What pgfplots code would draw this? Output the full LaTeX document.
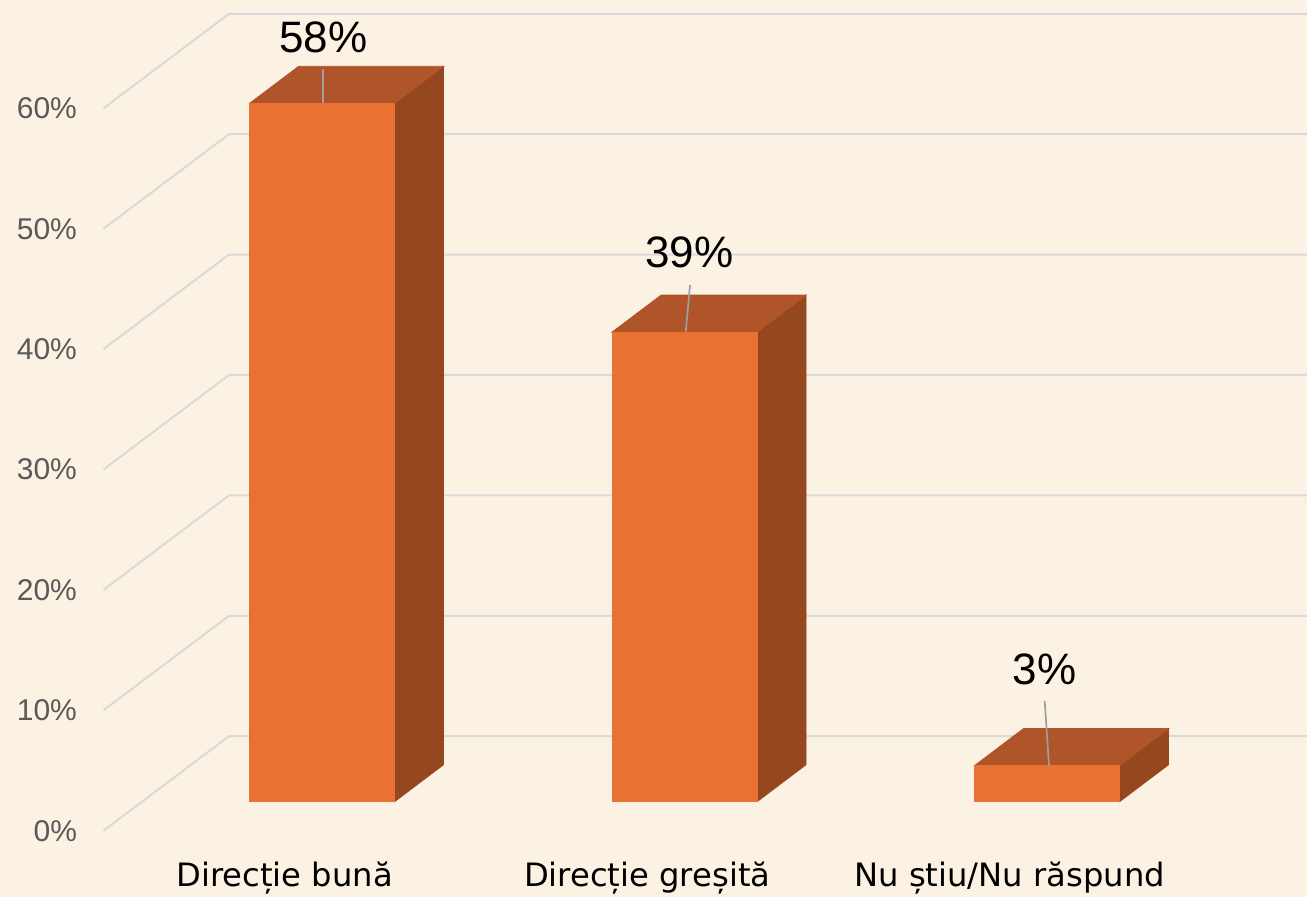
\documentclass[border=0pt]{standalone}
\usepackage{pgfplots}
\pgfplotsset{compat=1.18}
\usepackage{pgfplotstable}
\usepackage{fontspec}
\setmainfont{Liberation Sans}
\newfontfamily\catfont{DejaVu Sans}
\definecolor{bg}{HTML}{FCF2E4}
\definecolor{barfront}{HTML}{E97132}
\definecolor{bartop}{HTML}{B0552A}
\definecolor{barside}{HTML}{95471F}
\definecolor{gridc}{HTML}{D9D9D9}
\definecolor{tickc}{HTML}{595959}
\definecolor{leader}{HTML}{9E9E9E}

\pgfplotstableread{
idx v
0 58
1 39
2 3
}\bars

\pgfplotstableread{
x y lab
0.1063 65.92 58
1.1166 48.05 39
2.0964 13.43 3
}\labels

% mark drawn at the data point (left edge, value); the bar plane base sits 2.41 units above the floor
\pgfdeclareplotmark{bar3d}{%
  \pgfkeys{/pgf/fpu=false}%
  \pgfmathsetmacro\Top{14.508}%
  \pgfmathsetmacro\Bot{14.508-\rawy*6.02}%
  \pgfmathsetmacro\Botd{\Bot+18.5}%
  \pgfmathsetmacro\Topd{\Top+18.5}%
  \fill[barside] (72.5pt,\Bot pt) -- (97pt,\Botd pt) -- (97pt,\Topd pt) -- (72.5pt,\Top pt) -- cycle;
  \fill[bartop] (0pt,\Top pt) -- (72.5pt,\Top pt) -- (97pt,\Topd pt) -- (24.5pt,\Topd pt) -- cycle;
  \fill[barfront] (0pt,\Bot pt) rectangle (72.5pt,\Top pt);
}
% leader line drawn from the bar top to the label
\pgfdeclareplotmark{leaderline}{%
  \draw[leader, line width=0.85pt] (0pt,0pt) -- (\ldx pt,\ldy pt);
}

\begin{document}
\begin{tikzpicture}
\path[use as bounding box, fill=bg] (-51.75pt,-33.15pt) rectangle (601.75pt,415.35pt);
\begin{axis}[
  at={(0pt,0pt)}, anchor=south west,
  x=181.25pt, y=6.02pt,
  xmin=-0.5, xmax=2.82, ymin=0, ymax=69,
  axis line style={draw=none},
  major tick length=0pt,
  tick style={draw=none},
  xtick={0,1,2},
  xticklabels={Direcție bună, Direcție greșită, Nu știu/Nu răspund},
  xticklabel style={font=\catfont\fontsize{16.1}{18}\selectfont, text=black, anchor=base, yshift=-28.15pt},
  ytick={0,10,20,30,40,50,60},
  yticklabels={0\%,10\%,20\%,30\%,40\%,50\%,60\%},
  yticklabel style={font=\fontsize{15}{18}\selectfont, text=tickc, anchor=east, xshift=-9.75pt},
  unbounded coords=jump,
  clip=false,
]
% gridlines (side wall diagonals + back wall horizontals)
\addplot[gridc, line width=1pt, mark=none] coordinates {
(-0.5,0) (-0.1538,7.849) (2.82,7.849) (0,nan)
(-0.5,10) (-0.1538,17.849) (2.82,17.849) (0,nan)
(-0.5,20) (-0.1538,27.849) (2.82,27.849) (0,nan)
(-0.5,30) (-0.1538,37.849) (2.82,37.849) (0,nan)
(-0.5,40) (-0.1538,47.849) (2.82,47.849) (0,nan)
(-0.5,50) (-0.1538,57.849) (2.82,57.849) (0,nan)
(-0.5,60) (-0.1538,67.849) (2.82,67.849)
};
% 3D bars
\addplot[only marks, mark=bar3d,
  visualization depends on={y \as \rawy}]
  table[x expr=\thisrow{idx}-0.097, y=v] {\bars};
% leader lines (start at bar top, offset in pt to the label)
\addplot[only marks, mark=leaderline,
  visualization depends on={value \thisrow{dx}\as\ldx},
  visualization depends on={value \thisrow{dy}\as\ldy}]
  table[x=x, y=y] {
x y dx dy
0.1063 60.41 0 17.04
1.1062 41.45 2.14 23.30
2.1083 5.40 -2.16 32.33
};
% data labels
\addplot[only marks, mark=none, point meta=explicit symbolic,
  nodes near coords={\pgfplotspointmeta\%},
  every node near coord/.style={anchor=center, font=\fontsize{22}{24}\selectfont, text=black}]
  table[x=x, y=y, meta=lab] {\labels};
\end{axis}
\end{tikzpicture}
\end{document}
